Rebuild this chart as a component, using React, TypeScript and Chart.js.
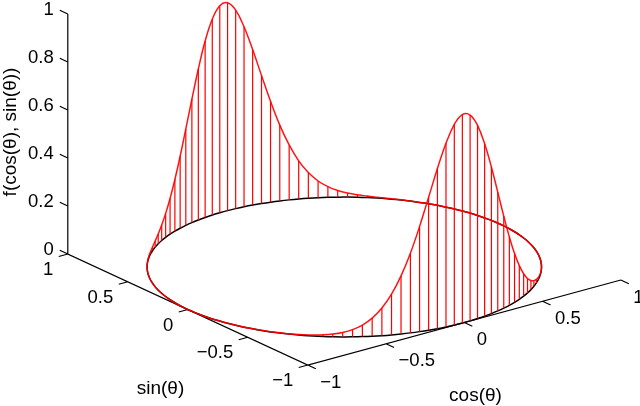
import { useEffect, useRef } from "react";
import { Chart, registerables } from "chart.js";

Chart.register(...registerables);

// f(cos(theta), sin(theta)), one value per stem (theta step 0.05 rad)
const fValues = [
  0, 0, 0, 0, 0, 0.0001, 0.0001, 0.0001, 0.0002, 0.0002,
  0.0003, 0.0005, 0.0008, 0.0014, 0.0022, 0.0037, 0.0062, 0.0103, 0.017, 0.0277,
  0.0444, 0.0697, 0.107, 0.159, 0.229, 0.316, 0.42, 0.534, 0.648, 0.75,
  0.827, 0.866, 0.8625, 0.816, 0.735, 0.629, 0.514, 0.402, 0.3, 0.2155,
  0.149, 0.0998, 0.0647, 0.0408, 0.0255, 0.0156, 0.0095, 0.0057, 0.0034, 0.0021,
  0.0012, 0.0007, 0.0005, 0.0003, 0.0002, 0.0002, 0.0001, 0.0001, 0.0001, 0,
  0, 0, 0, 0, 0, 0, 0.0001, 0.0001, 0.0001, 0.0001,
  0.0001, 0.0002, 0.0003, 0.0004, 0.0006, 0.0009, 0.0015, 0.0025, 0.0041, 0.0068,
  0.0112, 0.0185, 0.0301, 0.0482, 0.0754, 0.115, 0.1695, 0.242, 0.332, 0.4385,
  0.554, 0.667, 0.765, 0.836, 0.8686, 0.8576, 0.805, 0.718, 0.611, 0.495,
  0.3835, 0.285, 0.203, 0.14, 0.0933, 0.0601, 0.0382, 0.0236, 0.0145, 0.0087,
  0.0052, 0.0031, 0.0019, 0.0012, 0.0007, 0.0004, 0.0003, 0.0002, 0.0001, 0.0001,
  0, 0, 0, 0, 0, 0,
];
const thetaStep = 0.05;

const cosTicks = [-1, -0.5, 0, 0.5, 1];
const sinTicks = [-1, -0.5, 0, 0.5, 1];
const zTicks = [0, 0.2, 0.4, 0.6, 0.8, 1];
const cosTickLabels = ["\u22121", "\u22120.5", "0", "0.5", "1"];
const sinTickLabels = ["\u22121", "\u22120.5", "0", "0.5", "1"];
const zTickLabels = ["0", "0.2", "0.4", "0.6", "0.8", "1"];
const xTitle = "cos(\u03b8)";
const yTitle = "sin(\u03b8)";
const zTitle = "f(cos(\u03b8), sin(\u03b8))";

// view projection of the 3-D box on to the canvas
const project = (c: number, s: number, z: number) => ({
  x: 344.3 + 156.5 * c - 120 * s,
  y: 267 - 42.5 * c - 55.5 * s - 240 * z,
});

const GAP = { x: NaN, y: NaN };
const TICK_S = 0.067;
const TICK_C = 0.058;
const FONT = '18.5px "Liberation Sans", Arial, sans-serif';
const TITLE_FONT = '19px "Liberation Sans", Arial, sans-serif';

const labelsPlugin = {
  id: "box3dLabels",
  afterDraw(chart: any) {
    const { ctx, scales } = chart;
    const px = (p: { x: number; y: number }) => ({
      x: scales.x.getPixelForValue(p.x),
      y: scales.y.getPixelForValue(p.y),
    });
    ctx.save();
    ctx.font = FONT;
    ctx.fillStyle = "#000";
    ctx.textBaseline = "middle";
    ctx.textAlign = "right";
    zTicks.forEach((z, i) => {
      const p = px(project(-1, 1, z));
      ctx.fillText(zTickLabels[i], p.x - 14, p.y - 4.5);
    });
    sinTicks.forEach((s, i) => {
      const p = px(project(-1, s, 0));
      ctx.fillText(sinTickLabels[i], p.x - 14.5, p.y + 16);
    });
    ctx.textAlign = "left";
    cosTicks.forEach((c, i) => {
      const p = px(project(c, -1, 0));
      ctx.fillText(cosTickLabels[i], p.x + 12.5, p.y + 17.5);
    });
    ctx.font = TITLE_FONT;
    ctx.textAlign = "center";
    ctx.fillText(yTitle, 160.5, 388.5);
    ctx.fillText(xTitle, 475.5, 396);
    ctx.translate(11, 132);
    ctx.rotate(-Math.PI / 2);
    ctx.fillText(zTitle, 0, 0);
    ctx.restore();
  },
};

export default function App() {
  const ref = useRef<HTMLCanvasElement>(null);
  useEffect(() => {
    const circle = fValues.map((f, k) => ({ c: Math.cos(k * thetaStep), s: Math.sin(k * thetaStep), f }));
    const base = circle.map((p) => project(p.c, p.s, 0));
    const curve = circle.map((p) => project(p.c, p.s, p.f));
    base.push(base[0]);
    curve.push(curve[0]);
    const stems = circle.flatMap((p) => [project(p.c, p.s, 0), project(p.c, p.s, p.f), GAP]);

    const axes: { x: number; y: number }[] = [
      project(-1, 1, 1), project(-1, 1, 0), project(-1, -1, 0), project(1, -1, 0), GAP,
    ];
    zTicks.forEach((z) => axes.push(project(-1, 1, z), project(-1, 1 + TICK_S, z), GAP));
    sinTicks.forEach((s) => axes.push(project(-1, s, 0), project(-1 - TICK_C, s, 0), GAP));
    cosTicks.forEach((c) => axes.push(project(c, -1, 0), project(c, -1 - TICK_S, 0), GAP));

    const line = (data: any[], color: string, width: number, tension = 0) => ({
      data, borderColor: color, borderWidth: width, showLine: true, pointRadius: 0, tension, spanGaps: false, clip: false,
    });
    const chart = new Chart(ref.current!, {
      type: "scatter",
      data: {
        datasets: [
          line(curve, "rgba(255,0,0,0.92)", 1.5, 0.4),
          line(stems, "#ff0000", 1.2),
          line(base, "#000", 1.5, 0.4),
          line(axes, "#000", 1.2),
        ],
      },
      options: {
        animation: false,
        responsive: false,
        layout: { padding: 0 },
        plugins: { legend: { display: false }, tooltip: { enabled: false }, title: { display: false } },
        scales: {
          x: { type: "linear", min: 0, max: 640, display: false },
          y: { type: "linear", min: 0, max: 406, reverse: true, display: false },
        },
      },
      plugins: [labelsPlugin],
    } as any);
    return () => chart.destroy();
  }, []);
  return (
    <canvas
      ref={ref}
      width={640}
      height={406}
      style={{ position: "absolute", left: 0, top: 0, display: "block", background: "#fff" }}
    />
  );
}
